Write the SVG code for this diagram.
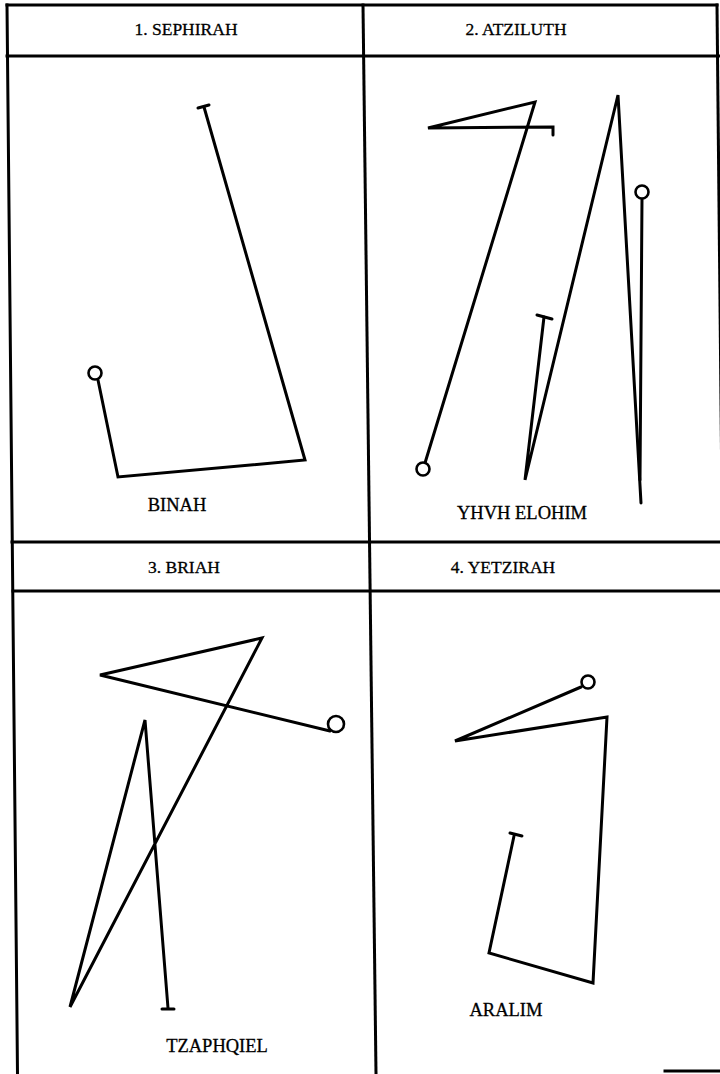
<svg xmlns="http://www.w3.org/2000/svg" width="720" height="1074" viewBox="0 0 720 1074">
<style>
.frame{stroke:#000;stroke-width:3;fill:none;stroke-linecap:square}
.fig{stroke:#000;stroke-width:3;fill:none;stroke-linejoin:miter;stroke-linecap:round}
.ring{stroke:#000;stroke-width:2.6;fill:#fff}
.hdr{font-family:"Liberation Serif",serif;font-size:17.5px;fill:#000;stroke:#000;stroke-width:0.3;text-anchor:middle}
.lbl{font-family:"Liberation Serif",serif;font-size:18.5px;fill:#000;stroke:#000;stroke-width:0.3;text-anchor:middle}
</style>
<rect width="720" height="1074" fill="#fff"/>
<g id="frame">
<line class="frame" x1="7" y1="5" x2="717" y2="5"/>
<line class="frame" x1="7" y1="56" x2="720" y2="56"/>
<line class="frame" x1="12" y1="542" x2="720" y2="542"/>
<line class="frame" x1="13" y1="591" x2="720" y2="591"/>
<line class="frame" x1="7" y1="5" x2="17.5" y2="1074"/>
<line class="frame" x1="363" y1="5" x2="376" y2="1074"/>
<line class="frame" x1="717" y1="5" x2="723" y2="600"/>
<line class="frame" x1="665" y1="1071" x2="720" y2="1071"/>
</g>
<g id="headers">
<text class="hdr" x="186" y="35">1. SEPHIRAH</text>
<text class="hdr" x="516" y="35">2. ATZILUTH</text>
<text class="hdr" x="184" y="573">3. BRIAH</text>
<text class="hdr" x="503" y="573">4. YETZIRAH</text>
</g>
<g id="sephirah-binah">
<line class="fig" x1="198" y1="108" x2="209" y2="105"/>
<polyline class="fig" points="204,107 305,460 118,477 98,380"/>
<circle class="ring" cx="95" cy="373" r="6.5"/>
<text class="lbl" x="177" y="511">BINAH</text>
</g>
<g id="atziluth-yhvh-elohim">
<polyline class="fig" points="553,135 553,127 428,128 535,102 425,463"/>
<circle class="ring" cx="423" cy="469" r="6.5"/>
<line class="fig" x1="537" y1="315" x2="552" y2="319"/>
<polyline class="fig" points="544,317 525,480 618,95 641,503"/>
<line class="fig" x1="642" y1="198" x2="640" y2="480"/>
<circle class="ring" cx="642" cy="192" r="6.5"/>
<text class="lbl" x="522" y="519">YHVH ELOHIM</text>
</g>
<g id="briah-tzaphqiel">
<polyline class="fig" points="330,731 100,675 262,638 70,1007 145,720 168,1008"/>
<line class="fig" x1="162" y1="1009" x2="174" y2="1009"/>
<circle class="ring" cx="336" cy="724" r="8"/>
<text class="lbl" x="217" y="1052">TZAPHQIEL</text>
</g>
<g id="yetzirah-aralim">
<polyline class="fig" points="581,687 455,741 607,717 593,983 489,953 514,836"/>
<line class="fig" x1="510" y1="833" x2="522" y2="836"/>
<circle class="ring" cx="588" cy="682" r="6.5"/>
<text class="lbl" x="506" y="1016">ARALIM</text>
</g>
</svg>
